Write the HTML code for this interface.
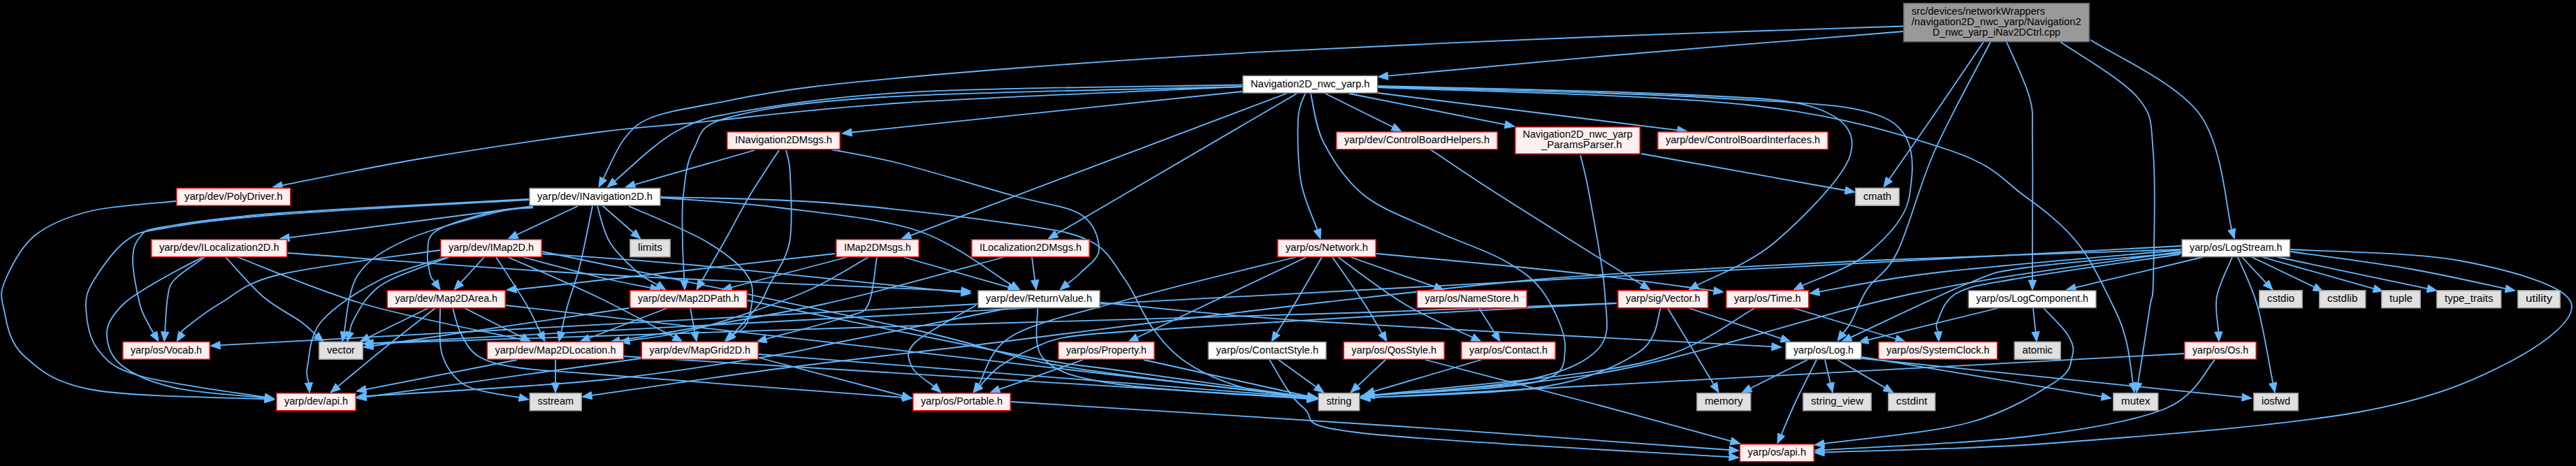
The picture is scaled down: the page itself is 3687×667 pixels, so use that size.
<!DOCTYPE html><html><head><meta charset="utf-8"><style>html,body{margin:0;padding:0;background:#000;}svg{display:block}</style></head><body>
<svg width="3687" height="667" viewBox="0 0 3687 667">
<rect x="0" y="0" width="3687" height="667" fill="#000"/>
<g fill="none" stroke="#63b8ff" stroke-width="1.80">
<path d="M2724.0,45.0 C2653.3,50.8 2422.9,69.4 2300.0,80.0 C2177.1,90.6 2038.7,103.9 1986.4,108.7"/>
<path d="M2724.0,37.5 C2653.3,39.9 2454.0,45.8 2300.0,52.0 C2146.0,58.2 1939.8,67.2 1800.0,74.7 C1660.2,82.2 1566.8,88.8 1461.0,97.0 C1355.2,105.2 1239.0,115.3 1165.0,124.0 C1091.0,132.7 1055.7,141.7 1017.0,149.0 C978.3,156.3 953.5,159.8 933.0,168.0 C912.5,176.2 905.6,183.4 894.0,198.0 C882.4,212.6 868.6,246.0 863.5,255.6"/>
<path d="M2839.0,60.0 C2827.3,77.2 2791.5,130.2 2769.0,163.0 C2746.5,195.8 2714.8,240.9 2704.0,256.5"/>
<path d="M2849.0,60.0 C2835.7,86.0 2791.2,166.0 2769.0,216.0 C2746.8,266.0 2732.0,327.2 2716.0,360.0 C2700.0,392.8 2684.0,396.3 2673.0,413.0 C2662.0,429.7 2655.8,449.4 2650.0,460.0 C2644.2,470.6 2640.1,473.8 2638.1,476.6"/>
<path d="M2872.0,60.0 C2877.5,73.3 2898.8,116.7 2905.0,140.0 C2911.2,163.3 2908.3,163.3 2909.0,200.0 C2909.7,236.7 2909.0,326.5 2909.0,360.0 C2909.0,393.5 2909.0,394.2 2909.0,401.0"/>
<path d="M2949.0,60.0 C2967.5,73.3 3037.8,113.3 3060.0,140.0 C3082.2,166.7 3078.3,176.7 3082.0,220.0 C3085.7,263.3 3082.8,363.3 3082.0,400.0 C3081.2,436.7 3080.6,415.3 3077.0,440.0 C3073.4,464.7 3063.0,530.1 3060.2,548.2"/>
<path d="M2992.0,57.0 C3018.0,74.7 3114.3,117.7 3148.0,163.0 C3181.7,208.3 3186.5,300.9 3194.2,328.5"/>
<path d="M1778.0,124.0 C1696.3,127.9 1417.7,139.0 1288.0,147.5 C1158.3,156.0 1073.0,167.9 1000.0,175.0 C927.0,182.1 916.7,181.2 850.0,190.0 C783.3,198.8 674.4,214.9 600.0,227.5 C525.6,240.1 436.5,259.0 403.7,265.3"/>
<path d="M1778.0,121.5 C1700.5,123.2 1431.5,125.2 1313.0,131.4 C1194.5,137.6 1124.5,149.2 1067.0,158.6 C1009.5,168.0 999.2,171.2 968.0,188.0 C936.8,204.8 894.6,247.3 879.9,259.2"/>
<path d="M1778.0,131.0 L1218.9,189.5"/>
<path d="M1778.0,124.0 C1692.3,126.5 1386.7,131.6 1264.0,139.0 C1141.3,146.4 1087.2,156.1 1042.0,168.4 C996.8,180.7 1003.7,194.4 993.0,213.0 C982.3,231.6 980.7,257.7 978.0,280.0 C975.3,302.3 976.8,326.8 977.0,347.0 C977.2,367.2 979.0,392.0 979.4,401.0"/>
<path d="M1897.0,134.0 L1993.5,181.8"/>
<path d="M1931.0,134.0 L2154.3,178.3"/>
<path d="M1971.7,133.0 L2401.1,186.3"/>
<path d="M1841.0,134.0 L1303.1,337.1"/>
<path d="M1856.0,134.0 L1512.1,334.9"/>
<path d="M1868.0,134.0 C1866.3,140.0 1859.0,149.0 1858.0,170.0 C1857.0,191.0 1857.4,233.5 1862.0,260.0 C1866.6,286.5 1881.6,317.3 1885.5,328.8"/>
<path d="M1876.0,134.0 C1879.2,145.8 1882.2,180.7 1895.0,205.0 C1907.8,229.3 1926.7,259.2 1953.0,280.0 C1979.3,300.8 2019.7,314.5 2053.0,330.0 C2086.3,345.5 2126.8,358.0 2153.0,373.0 C2179.2,388.0 2195.5,398.8 2210.0,420.0 C2224.5,441.2 2242.2,478.8 2240.0,500.0 C2237.8,521.2 2243.5,536.0 2197.0,547.0 C2150.5,558.0 2000.3,562.7 1961.0,565.9"/>
<path d="M1972.0,123.0 C2043.3,125.0 2295.3,129.7 2400.0,135.0 C2504.7,140.3 2558.7,140.3 2600.0,155.0 C2641.3,169.7 2658.0,191.0 2648.0,223.0 C2638.0,255.0 2576.5,316.1 2540.0,347.0 C2503.5,377.9 2447.7,398.0 2429.3,408.2"/>
<path d="M1972.0,124.0 C2051.7,126.7 2328.7,132.3 2450.0,140.0 C2571.3,147.7 2652.8,146.7 2700.0,170.0 C2747.2,193.3 2737.5,247.8 2733.0,280.0 C2728.5,312.2 2698.6,341.5 2673.0,363.0 C2647.4,384.5 2595.1,401.2 2579.6,408.8"/>
<path d="M1972.0,125.0 C2060.0,129.2 2363.7,135.0 2500.0,150.0 C2636.3,165.0 2723.8,193.3 2790.0,215.0 C2856.2,236.7 2866.5,258.0 2897.0,280.0 C2927.5,302.0 2952.0,321.2 2973.0,347.0 C2994.0,372.8 3011.3,411.7 3023.0,435.0 C3034.7,458.3 3038.0,468.1 3043.0,487.0 C3048.0,505.9 3051.2,538.0 3052.8,548.2"/>
<path d="M2349.0,220.0 L2641.2,272.5"/>
<path d="M2262.0,222.0 C2264.2,231.7 2269.2,247.0 2275.0,280.0 C2280.8,313.0 2295.0,383.3 2297.0,420.0 C2299.0,456.7 2306.5,479.2 2287.0,500.0 C2267.5,520.8 2234.3,533.9 2180.0,545.0 C2125.7,556.1 1997.4,563.0 1960.9,566.6"/>
<path d="M2046.0,213.0 C2062.8,224.2 2096.3,247.6 2147.0,280.0 C2197.7,312.4 2316.3,386.3 2350.1,407.6"/>
<path d="M1080.0,215.0 L908.5,264.1"/>
<path d="M1115.0,215.0 C1108.0,225.8 1085.5,259.2 1073.0,280.0 C1060.5,300.8 1051.5,319.5 1040.0,340.0 C1028.5,360.5 1010.0,392.4 1004.0,402.9"/>
<path d="M1125.0,215.0 C1126.0,220.8 1130.2,228.0 1131.0,250.0 C1131.8,272.0 1135.2,320.3 1130.0,347.0 C1124.8,373.7 1107.2,395.3 1100.0,410.0 C1092.8,424.7 1095.5,423.6 1087.0,435.0 C1078.5,446.4 1055.5,471.2 1049.2,478.4"/>
<path d="M1190.0,214.0 C1206.3,217.3 1244.7,223.0 1288.0,234.0 C1331.3,245.0 1406.8,267.8 1450.0,280.0 C1493.2,292.2 1526.5,294.2 1547.0,307.0 C1567.5,319.8 1573.0,343.2 1573.0,357.0 C1573.0,370.8 1554.5,381.8 1547.0,390.0 C1539.5,398.2 1531.0,403.4 1527.8,406.0"/>
<path d="M252.0,288.0 C231.7,290.3 163.7,293.8 130.0,302.0 C96.3,310.2 70.3,320.7 50.0,337.0 C29.7,353.3 15.5,382.8 8.0,400.0 C0.5,417.2 0.8,422.0 5.0,440.0 C9.2,458.0 11.7,488.3 33.0,508.0 C54.3,527.7 75.3,547.5 133.0,558.0 C190.7,568.5 338.0,569.0 379.0,571.2"/>
<path d="M763.0,295.0 L413.9,340.2"/>
<path d="M827.0,295.0 L739.7,336.0"/>
<path d="M863.0,295.0 L906.4,332.8"/>
<path d="M855.0,295.0 C858.0,303.7 863.3,331.2 873.0,347.0 C882.7,362.8 901.6,379.9 913.0,390.0 C924.4,400.1 936.4,404.7 941.1,407.6"/>
<path d="M848.0,295.0 C845.0,309.2 835.8,356.7 830.0,380.0 C824.2,403.3 817.5,419.1 813.0,435.0 C808.5,450.9 804.9,468.7 803.3,475.4"/>
<path d="M900.0,295.0 C918.8,303.7 984.2,329.5 1013.0,347.0 C1041.8,364.5 1063.5,381.2 1073.0,400.0 C1082.5,418.8 1074.2,446.7 1070.0,460.0 C1065.8,473.3 1051.3,476.5 1047.5,479.8"/>
<path d="M763.0,297.0 C753.5,298.0 729.0,297.5 706.0,303.0 C683.0,308.5 640.7,320.2 625.0,330.0 C609.3,339.8 613.5,351.3 612.0,362.0 C610.5,372.7 614.3,387.1 616.0,394.0 C617.7,400.9 621.2,401.8 622.2,403.4"/>
<path d="M763.0,297.0 C753.5,298.3 736.5,297.2 706.0,305.0 C675.5,312.8 612.3,329.2 580.0,344.0 C547.7,358.8 526.7,371.5 512.0,394.0 C497.3,416.5 495.2,465.5 492.0,479.0 C488.8,492.5 492.6,475.9 492.7,475.3"/>
<path d="M757.0,285.0 C697.5,288.3 487.3,298.3 400.0,305.0 C312.7,311.7 266.3,319.2 233.0,325.0 C199.7,330.8 207.2,332.0 200.0,340.0 C192.8,348.0 190.0,357.2 190.0,373.0 C190.0,388.8 196.2,419.7 200.0,435.0 C203.8,450.3 209.7,458.0 213.0,465.0 C216.3,472.0 218.8,474.9 219.9,476.9"/>
<path d="M757.0,286.0 C697.5,289.5 487.3,300.2 400.0,307.0 C312.7,313.8 269.7,320.7 233.0,327.0 C196.3,333.3 196.3,332.8 180.0,345.0 C163.7,357.2 144.5,384.2 135.0,400.0 C125.5,415.8 122.2,423.3 123.0,440.0 C123.8,456.7 127.2,483.7 140.0,500.0 C152.8,516.3 160.1,526.6 200.0,538.0 C239.9,549.4 349.3,563.5 379.2,568.6"/>
<path d="M946.0,283.0 C973.8,285.3 1051.8,289.2 1113.0,297.0 C1174.2,304.8 1257.2,311.5 1313.0,330.0 C1368.8,348.5 1425.4,395.0 1447.9,408.0"/>
<path d="M946.0,282.0 C985.0,283.3 1096.5,283.7 1180.0,290.0 C1263.5,296.3 1383.7,310.8 1447.0,320.0 C1510.3,329.2 1532.8,331.7 1560.0,345.0 C1587.2,358.3 1595.0,379.2 1610.0,400.0 C1625.0,420.8 1635.0,450.0 1650.0,470.0 C1665.0,490.0 1678.3,505.8 1700.0,520.0 C1721.7,534.2 1751.5,546.9 1780.0,555.0 C1808.5,563.1 1856.0,566.6 1871.2,568.9"/>
<path d="M290.0,368.0 C280.0,373.3 248.8,388.8 230.0,400.0 C211.2,411.2 189.8,422.5 177.0,435.0 C164.2,447.5 153.7,460.5 153.0,475.0 C152.3,489.5 156.8,508.7 173.0,522.0 C189.2,535.3 215.7,547.1 250.0,555.0 C284.3,562.9 357.6,567.0 379.1,569.4"/>
<path d="M293.0,368.0 C285.8,373.3 258.8,390.5 250.0,400.0 C241.2,409.5 242.3,412.5 240.0,425.0 C237.7,437.5 236.7,466.7 236.1,475.0"/>
<path d="M323.0,368.0 C332.0,377.5 359.2,409.7 377.0,425.0 C394.8,440.3 417.4,450.9 430.0,460.0 C442.6,469.1 448.7,476.5 452.5,479.8"/>
<path d="M340.0,368.0 C370.0,379.2 452.3,415.3 520.0,435.0 C587.7,454.7 708.6,477.4 746.3,485.9"/>
<path d="M411.0,362.0 C485.7,367.2 698.2,383.9 859.0,393.0 C1019.8,402.1 1289.8,412.5 1376.0,416.4"/>
<path d="M693.0,368.0 L659.5,404.7"/>
<path d="M748.0,368.0 C766.5,372.8 828.5,389.6 859.0,397.0 C889.5,404.4 919.2,409.6 931.3,412.1"/>
<path d="M710.0,368.0 C717.2,379.2 742.4,416.9 753.0,435.0 C763.6,453.1 770.3,469.6 773.7,476.5"/>
<path d="M727.0,368.0 C749.0,377.8 819.4,407.9 859.0,427.0 C898.6,446.1 947.0,473.2 964.6,482.5"/>
<path d="M643.0,368.0 C629.2,373.3 579.3,390.5 560.0,400.0 C540.7,409.5 536.2,415.0 527.0,425.0 C517.8,435.0 509.4,451.6 505.0,460.0 C500.6,468.4 501.4,472.9 500.7,475.5"/>
<path d="M630.0,358.0 C591.7,363.8 452.2,380.5 400.0,393.0 C347.8,405.5 339.5,420.2 317.0,433.0 C294.5,445.8 274.4,462.6 265.0,470.0 C255.6,477.4 261.2,476.0 260.5,477.2"/>
<path d="M773.0,363.0 C810.8,365.8 899.5,370.7 1000.0,380.0 C1100.5,389.3 1313.4,412.1 1376.1,418.6"/>
<path d="M613.0,441.0 L527.6,482.8"/>
<path d="M623.0,441.0 C610.5,450.8 571.2,481.3 548.0,500.0 C524.8,518.7 494.5,544.2 483.8,553.1"/>
<path d="M665.0,441.0 L747.5,482.7"/>
<path d="M630.0,441.0 C630.5,452.2 626.8,489.5 633.0,508.0 C639.2,526.5 648.6,541.8 667.0,552.0 C685.4,562.2 730.6,566.1 743.3,569.0"/>
<path d="M648.0,441.0 C650.0,447.2 653.8,466.5 660.0,478.0 C666.2,489.5 671.7,502.0 685.0,510.0 C698.3,518.0 711.2,521.7 740.0,526.0 C768.8,530.3 766.0,528.8 858.0,536.0 C950.0,543.2 1219.7,563.5 1292.0,568.9"/>
<path d="M955.0,441.0 L843.1,484.0"/>
<path d="M988.0,441.0 L994.4,475.2"/>
<path d="M900.0,441.0 L533.9,495.0"/>
<path d="M795.0,515.0 L795.0,548.0"/>
<path d="M740.0,515.0 L523.7,557.3"/>
<path d="M1213.0,368.0 L1046.5,411.5"/>
<path d="M1195.0,363.0 C1125.8,370.8 856.0,401.5 780.0,410.0 C704.0,418.5 745.8,413.1 738.9,413.7"/>
<path d="M1293.0,368.0 L1443.5,411.1"/>
<path d="M1243.0,368.0 C1227.0,376.7 1187.5,403.0 1147.0,420.0 C1106.5,437.0 1041.0,458.7 1000.0,470.0 C959.0,481.3 917.3,484.6 900.8,487.6"/>
<path d="M1255.0,368.0 C1253.0,379.2 1250.0,420.8 1243.0,435.0 C1236.0,449.2 1237.4,444.6 1213.0,453.0 C1188.6,461.4 1115.9,479.9 1096.5,485.3"/>
<path d="M1477.0,368.0 L1481.2,401.1"/>
<path d="M1437.0,368.0 C1394.2,379.2 1271.7,415.1 1180.0,435.0 C1088.3,454.9 935.7,478.8 886.8,487.5"/>
<path d="M1870.0,368.0 L1627.6,483.0"/>
<path d="M1892.0,368.0 C1885.5,379.2 1863.8,416.8 1853.0,435.0 C1842.2,453.2 1831.6,470.0 1827.3,477.1"/>
<path d="M1907.0,368.0 C1914.7,379.2 1941.2,416.8 1953.0,435.0 C1964.8,453.2 1973.7,470.0 1977.9,477.0"/>
<path d="M1915.0,368.0 C1930.8,379.2 1977.9,415.9 2010.0,435.0 C2042.1,454.1 2091.2,474.9 2107.4,482.8"/>
<path d="M1933.0,368.0 L2053.8,410.4"/>
<path d="M1970.0,363.0 C2016.7,367.5 2169.5,381.1 2250.0,390.0 C2330.5,398.9 2419.3,411.8 2453.1,416.2"/>
<path d="M1855.0,368.0 C1815.8,377.8 1687.5,408.3 1620.0,427.0 C1552.5,445.7 1486.5,459.4 1450.0,480.0 C1413.5,500.6 1409.2,538.8 1401.0,550.5"/>
<path d="M1397.0,437.0 C1382.5,445.8 1325.3,475.3 1310.0,490.0 C1294.7,504.7 1300.6,514.5 1305.0,525.0 C1309.4,535.5 1331.2,548.1 1336.5,552.7"/>
<path d="M1485.0,441.0 C1486.7,453.3 1475.8,496.8 1495.0,515.0 C1514.2,533.2 1537.3,540.7 1600.0,550.0 C1662.7,559.3 1825.9,567.4 1871.0,570.9"/>
<path d="M1575.0,433.0 C1625.8,437.5 1719.8,449.5 1880.0,460.0 C2040.2,470.5 2426.7,490.2 2536.0,496.2"/>
<path d="M1444.0,441.0 C1433.3,443.2 1420.7,445.8 1380.0,454.0 C1339.3,462.2 1246.7,480.7 1200.0,490.0 C1153.3,499.3 1156.7,501.0 1100.0,510.0 C1043.3,519.0 956.0,534.5 860.0,544.0 C764.0,553.5 580.0,563.2 524.0,567.0"/>
<path d="M2117.0,441.0 L2139.6,477.1"/>
<path d="M2377.0,441.0 C2372.0,451.3 2374.3,484.3 2347.0,503.0 C2319.7,521.7 2277.3,542.0 2213.0,553.0 C2148.7,564.0 2003.0,566.4 1961.0,569.1"/>
<path d="M2387.0,441.0 L2452.8,550.0"/>
<path d="M2417.0,441.0 L2549.7,484.6"/>
<path d="M2314.0,434.0 C2255.0,437.2 2070.7,446.7 1960.0,453.0 C1849.3,459.3 1721.7,467.2 1650.0,472.0 C1578.3,476.8 1559.2,477.3 1530.0,482.0 C1500.8,486.7 1491.7,492.8 1475.0,500.0 C1458.3,507.2 1442.0,516.3 1430.0,525.0 C1418.0,533.7 1407.4,547.6 1402.9,552.1"/>
<path d="M2512.0,441.0 C2484.5,454.2 2437.8,499.3 2347.0,520.0 C2256.2,540.7 2030.3,557.8 1966.9,565.3"/>
<path d="M2567.0,441.0 L2713.6,485.0"/>
<path d="M1637.0,515.0 L1871.3,567.0"/>
<path d="M1550.0,515.0 L1430.2,557.3"/>
<path d="M1830.0,515.0 L1883.7,553.8"/>
<path d="M1817.0,515.0 C1825.0,526.3 1842.8,565.5 1865.0,583.0 C1887.2,600.5 1848.3,608.2 1950.0,620.0 C2051.7,631.8 2387.5,648.4 2475.0,654.1"/>
<path d="M1983.0,515.0 L1943.2,552.4"/>
<path d="M2040.0,515.0 C2078.3,525.0 2197.1,555.6 2270.0,575.0 C2342.9,594.4 2442.9,621.9 2477.5,631.3"/>
<path d="M2120.0,515.0 L1966.4,560.1"/>
<path d="M1447.0,575.0 C1539.2,580.8 1828.7,598.5 2000.0,610.0 C2171.3,621.5 2395.9,638.3 2475.0,644.0"/>
<path d="M2587.0,515.0 L2505.5,555.7"/>
<path d="M2612.0,515.0 L2619.8,548.4"/>
<path d="M2630.0,515.0 L2697.9,554.9"/>
<path d="M2600.0,515.0 C2595.0,525.0 2578.4,557.1 2570.0,575.0 C2561.6,592.9 2553.0,614.3 2549.6,622.2"/>
<path d="M2665.0,511.0 L3008.2,567.7"/>
<path d="M2665.0,513.0 L3209.1,568.6"/>
<path d="M2860.0,441.0 L2673.6,486.7"/>
<path d="M2910.0,441.0 L2913.5,475.1"/>
<path d="M2925.0,441.0 C2930.8,447.5 2953.2,468.5 2960.0,480.0 C2966.8,491.5 2969.2,498.8 2966.0,510.0 C2962.8,521.2 2965.7,531.2 2941.0,547.0 C2916.3,562.8 2873.0,590.3 2818.0,605.0 C2763.0,619.7 2645.4,630.0 2610.9,635.0"/>
<path d="M3120.0,358.0 C3062.2,363.3 2859.0,380.0 2773.0,390.0 C2687.0,400.0 2632.0,413.1 2603.8,417.7"/>
<path d="M3153.0,368.0 L2970.6,411.7"/>
<path d="M3122.0,362.0 C3085.0,365.5 2951.0,375.7 2900.0,383.0 C2849.0,390.3 2857.9,389.3 2816.0,406.0 C2774.1,422.7 2676.6,470.3 2648.7,483.1"/>
<path d="M3120.0,364.0 C3080.0,370.0 2933.3,390.7 2880.0,400.0 C2826.7,409.3 2817.8,410.0 2800.0,420.0 C2782.2,430.0 2777.3,450.8 2773.0,460.0 C2768.7,469.2 2773.9,472.5 2774.0,475.0"/>
<path d="M3209.0,368.0 L3243.4,404.8"/>
<path d="M3223.0,368.0 L3312.4,410.9"/>
<path d="M3238.0,368.0 L3397.5,413.2"/>
<path d="M3260.0,368.0 L3474.3,413.1"/>
<path d="M3278.0,360.0 C3306.7,364.2 3398.6,376.1 3450.0,385.0 C3501.4,393.9 3563.6,408.5 3586.3,413.2"/>
<path d="M3195.0,368.0 C3191.3,377.3 3176.3,406.2 3173.0,424.0 C3169.7,441.8 3175.0,466.5 3175.4,475.0"/>
<path d="M3203.0,368.0 C3207.7,379.7 3222.6,408.0 3231.0,438.0 C3239.4,468.0 3249.5,529.9 3253.2,548.3"/>
<path d="M3278.0,357.0 C3318.3,359.7 3453.2,360.7 3520.0,373.0 C3586.8,385.3 3667.0,406.8 3679.0,431.0 C3691.0,455.2 3642.7,491.5 3592.0,518.0 C3541.3,544.5 3483.5,570.7 3375.0,590.0 C3266.5,609.3 3068.3,624.4 2941.0,634.0 C2813.7,643.6 2666.0,645.2 2611.0,647.4"/>
<path d="M3122.0,352.0 L534.0,491.2"/>
<path d="M3122.0,360.0 C3058.2,370.0 2873.8,391.7 2739.0,420.0 C2604.2,448.3 2442.7,505.6 2313.0,530.0 C2183.3,554.4 2019.6,560.5 1960.9,566.6"/>
<path d="M3122.0,357.0 C3051.7,359.5 2813.7,367.3 2700.0,372.0 C2586.3,376.7 2523.3,380.3 2440.0,385.0 C2356.7,389.7 2290.0,392.2 2200.0,400.0 C2110.0,407.8 1992.0,421.7 1900.0,432.0 C1808.0,442.3 1728.0,452.2 1648.0,462.0 C1568.0,471.8 1508.0,480.2 1420.0,491.0 C1332.0,501.8 1215.5,514.5 1120.0,527.0 C1024.5,539.5 892.4,559.5 846.9,566.0"/>
<path d="M3127.0,506.0 L1961.0,569.2"/>
<path d="M3170.0,515.0 C3158.2,526.7 3144.0,566.7 3099.0,585.0 C3054.0,603.3 2981.3,615.2 2900.0,625.0 C2818.7,634.8 2659.1,640.9 2611.0,644.1"/>
<path d="M1401.0,435.0 L315.0,494.2"/>
<path d="M2314.0,434.0 C2255.0,436.2 2115.7,442.0 1960.0,447.0 C1804.3,452.0 1617.7,456.6 1380.0,464.0 C1142.3,471.4 675.0,487.0 534.0,491.5"/>
<path d="M776.0,360.0 C863.3,378.3 1176.0,442.7 1300.0,470.0 C1424.0,497.3 1424.5,507.6 1520.0,524.0 C1615.5,540.4 1814.3,560.9 1873.1,568.3"/>
<path d="M1086.0,507.0 L1873.0,568.9"/>
<path d="M724.0,437.0 L1873.1,568.4"/>
<path d="M1070.0,430.0 C1135.0,443.2 1371.7,492.3 1460.0,509.0 C1548.3,525.7 1531.1,520.2 1600.0,530.0 C1668.9,539.8 1827.6,561.7 1873.1,568.1"/>
<path d="M893.0,510.0 L1873.0,570.1"/>
<path d="M1086.0,512.0 L1291.5,566.4"/>
<path d="M640.0,368.0 C624.2,373.3 575.0,384.7 545.0,400.0 C515.0,415.3 477.5,439.2 460.0,460.0 C442.5,480.8 443.0,510.3 440.0,525.0 C437.0,539.7 441.6,544.2 441.9,548.0"/>
<path d="M917.0,513.0 L523.9,568.1"/>
</g>
<g fill="#63b8ff" stroke="#63b8ff" stroke-width="1">
<polygon points="1972.5,110.0 1985.9,103.1 1987.0,114.3"/>
<polygon points="857.0,268.0 858.6,253.0 868.5,258.2"/>
<polygon points="2696.0,268.0 2699.4,253.3 2708.6,259.7"/>
<polygon points="2630.0,488.0 2633.6,473.4 2642.7,479.9"/>
<polygon points="2909.0,415.0 2903.4,401.0 2914.6,401.0"/>
<polygon points="3058.0,562.0 3054.6,547.3 3065.7,549.0"/>
<polygon points="3198.0,342.0 3188.8,330.0 3199.6,327.0"/>
<polygon points="390.0,268.0 402.7,259.9 404.8,270.8"/>
<polygon points="869.0,268.0 876.4,254.8 883.4,263.6"/>
<polygon points="1205.0,191.0 1218.3,184.0 1219.5,195.1"/>
<polygon points="980.0,415.0 973.8,401.3 985.0,400.8"/>
<polygon points="2006.0,188.0 1991.0,186.8 1995.9,176.8"/>
<polygon points="2168.0,181.0 2153.2,183.8 2155.4,172.8"/>
<polygon points="2415.0,188.0 2400.4,191.8 2401.8,180.7"/>
<polygon points="1290.0,342.0 1301.1,331.8 1305.1,342.3"/>
<polygon points="1500.0,342.0 1509.3,330.1 1514.9,339.8"/>
<polygon points="1890.0,342.0 1880.2,330.6 1890.8,326.9"/>
<polygon points="1947.0,567.0 1960.5,560.3 1961.4,571.5"/>
<polygon points="2417.0,415.0 2426.5,403.3 2432.0,413.1"/>
<polygon points="2567.0,415.0 2577.1,403.8 2582.0,413.9"/>
<polygon points="3055.0,562.0 3047.3,549.1 3058.3,547.3"/>
<polygon points="2655.0,275.0 2640.2,278.0 2642.2,267.0"/>
<polygon points="1947.0,568.0 1960.4,561.1 1961.5,572.2"/>
<polygon points="2362.0,415.0 2347.2,412.3 2353.1,402.8"/>
<polygon points="895.0,268.0 906.9,258.8 910.0,269.5"/>
<polygon points="997.0,415.0 999.1,400.1 1008.8,405.6"/>
<polygon points="1040.0,489.0 1045.0,474.8 1053.4,482.1"/>
<polygon points="1517.0,415.0 1524.2,401.7 1531.3,410.3"/>
<polygon points="393.0,572.0 378.7,576.8 379.3,565.7"/>
<polygon points="400.0,342.0 413.2,334.6 414.6,345.8"/>
<polygon points="727.0,342.0 737.3,331.0 742.1,341.1"/>
<polygon points="917.0,342.0 902.8,337.0 910.1,328.6"/>
<polygon points="953.0,415.0 938.2,412.3 944.1,402.8"/>
<polygon points="800.0,489.0 797.8,474.1 808.7,476.7"/>
<polygon points="1037.0,489.0 1043.8,475.6 1051.2,484.0"/>
<polygon points="630.0,415.0 617.6,406.5 626.9,400.2"/>
<polygon points="490.0,489.0 487.3,474.2 498.2,476.4"/>
<polygon points="227.0,489.0 215.1,479.7 224.8,474.1"/>
<polygon points="393.0,571.0 378.3,574.2 380.1,563.1"/>
<polygon points="1460.0,415.0 1445.1,412.8 1450.7,403.1"/>
<polygon points="1885.0,571.0 1870.3,574.4 1872.0,563.4"/>
<polygon points="393.0,571.0 378.5,575.0 379.7,563.9"/>
<polygon points="235.0,489.0 230.5,474.6 241.7,475.5"/>
<polygon points="463.0,489.0 448.8,484.0 456.2,475.6"/>
<polygon points="760.0,489.0 745.1,491.4 747.6,480.5"/>
<polygon points="1390.0,417.0 1375.8,422.0 1376.3,410.8"/>
<polygon points="650.0,415.0 655.3,400.9 663.6,408.5"/>
<polygon points="945.0,415.0 930.1,417.6 932.4,406.7"/>
<polygon points="780.0,489.0 768.7,479.0 778.7,474.0"/>
<polygon points="977.0,489.0 962.0,487.4 967.2,477.5"/>
<polygon points="497.0,489.0 495.3,474.0 506.1,477.0"/>
<polygon points="253.0,489.0 255.7,474.2 265.2,480.2"/>
<polygon points="1390.0,420.0 1375.5,424.1 1376.6,413.0"/>
<polygon points="515.0,489.0 525.1,477.8 530.0,487.9"/>
<polygon points="473.0,562.0 480.2,548.8 487.4,557.4"/>
<polygon points="760.0,489.0 745.0,487.7 750.0,477.7"/>
<polygon points="757.0,572.0 742.1,574.4 744.5,563.5"/>
<polygon points="1306.0,570.0 1291.6,574.5 1292.5,563.4"/>
<polygon points="830.0,489.0 841.1,478.8 845.1,489.2"/>
<polygon points="997.0,489.0 988.9,476.3 999.9,474.2"/>
<polygon points="520.0,497.0 533.0,489.4 534.7,500.5"/>
<polygon points="795.0,562.0 789.4,548.0 800.6,548.0"/>
<polygon points="510.0,560.0 522.7,551.8 524.8,562.8"/>
<polygon points="1033.0,415.0 1045.1,406.0 1048.0,416.9"/>
<polygon points="725.0,415.0 738.4,408.2 739.4,419.3"/>
<polygon points="1457.0,415.0 1442.0,416.5 1445.1,405.8"/>
<polygon points="887.0,490.0 899.8,482.0 901.8,493.1"/>
<polygon points="1083.0,489.0 1095.0,479.9 1098.0,490.7"/>
<polygon points="1483.0,415.0 1475.7,401.8 1486.8,400.4"/>
<polygon points="873.0,490.0 885.8,482.0 887.8,493.0"/>
<polygon points="1615.0,489.0 1625.2,477.9 1630.0,488.1"/>
<polygon points="1820.0,489.0 1822.5,474.1 1832.1,480.0"/>
<polygon points="1985.0,489.0 1973.0,479.8 1982.7,474.1"/>
<polygon points="2120.0,489.0 2105.0,487.9 2109.9,477.8"/>
<polygon points="2067.0,415.0 2051.9,415.7 2055.6,405.1"/>
<polygon points="2467.0,418.0 2452.4,421.8 2453.8,410.7"/>
<polygon points="1393.0,562.0 1396.4,547.3 1405.6,553.7"/>
<polygon points="1347.0,562.0 1332.8,556.9 1340.2,548.5"/>
<polygon points="1885.0,572.0 1870.6,576.5 1871.5,565.3"/>
<polygon points="2550.0,497.0 2535.7,501.8 2536.3,490.6"/>
<polygon points="510.0,568.0 523.6,561.5 524.4,572.6"/>
<polygon points="2147.0,489.0 2134.8,480.1 2144.3,474.2"/>
<polygon points="1947.0,570.0 1960.6,563.5 1961.3,574.7"/>
<polygon points="2460.0,562.0 2448.0,552.9 2457.6,547.1"/>
<polygon points="2563.0,489.0 2548.0,489.9 2551.4,479.3"/>
<polygon points="1393.0,562.0 1398.9,548.1 1406.9,556.1"/>
<polygon points="1953.0,567.0 1966.2,559.8 1967.6,570.9"/>
<polygon points="2727.0,489.0 2712.0,490.3 2715.2,479.6"/>
<polygon points="1885.0,570.0 1870.1,572.4 1872.5,561.5"/>
<polygon points="1417.0,562.0 1428.3,552.1 1432.1,562.6"/>
<polygon points="1895.0,562.0 1880.4,558.3 1886.9,549.3"/>
<polygon points="2489.0,655.0 2474.7,659.7 2475.4,648.5"/>
<polygon points="1933.0,562.0 1939.4,548.3 1947.0,556.5"/>
<polygon points="2491.0,635.0 2476.0,636.7 2479.0,625.9"/>
<polygon points="1953.0,564.0 1964.9,554.7 1968.0,565.4"/>
<polygon points="2489.0,645.0 2474.6,649.6 2475.4,638.4"/>
<polygon points="2493.0,562.0 2503.0,550.7 2508.0,560.7"/>
<polygon points="2623.0,562.0 2614.4,549.6 2625.3,547.1"/>
<polygon points="2710.0,562.0 2695.1,559.7 2700.8,550.1"/>
<polygon points="2544.0,635.0 2544.4,619.9 2554.7,624.4"/>
<polygon points="3022.0,570.0 3007.3,573.2 3009.1,562.2"/>
<polygon points="3223.0,570.0 3208.5,574.1 3209.6,563.0"/>
<polygon points="2660.0,490.0 2672.3,481.2 2674.9,492.1"/>
<polygon points="2915.0,489.0 2908.0,475.7 2919.1,474.5"/>
<polygon points="2597.0,637.0 2610.1,629.5 2611.7,640.5"/>
<polygon points="2590.0,420.0 2602.9,412.2 2604.7,423.3"/>
<polygon points="2957.0,415.0 2969.3,406.3 2971.9,417.2"/>
<polygon points="2636.0,489.0 2646.4,478.1 2651.1,488.2"/>
<polygon points="2775.0,489.0 2768.5,475.4 2779.6,474.6"/>
<polygon points="3253.0,415.0 3239.3,408.6 3247.5,401.0"/>
<polygon points="3325.0,417.0 3310.0,416.0 3314.8,405.9"/>
<polygon points="3411.0,417.0 3396.0,418.6 3399.1,407.8"/>
<polygon points="3488.0,416.0 3473.1,418.6 3475.5,407.6"/>
<polygon points="3600.0,416.0 3585.2,418.7 3587.4,407.7"/>
<polygon points="3176.0,489.0 3169.8,475.3 3180.9,474.8"/>
<polygon points="3256.0,562.0 3247.7,549.4 3258.7,547.2"/>
<polygon points="2597.0,648.0 2610.8,641.8 2611.2,653.0"/>
<polygon points="520.0,492.0 533.7,485.7 534.3,496.8"/>
<polygon points="1947.0,568.0 1960.3,561.0 1961.5,572.1"/>
<polygon points="833.0,568.0 846.1,560.5 847.7,571.6"/>
<polygon points="1947.0,570.0 1960.7,563.7 1961.3,574.8"/>
<polygon points="2597.0,645.0 2610.6,638.5 2611.3,649.7"/>
<polygon points="301.0,495.0 314.7,488.6 315.3,499.8"/>
<polygon points="520.0,492.0 533.8,485.9 534.2,497.1"/>
<polygon points="1887.0,570.0 1872.4,573.8 1873.8,562.7"/>
<polygon points="1887.0,570.0 1872.6,574.5 1873.5,563.3"/>
<polygon points="1887.0,570.0 1872.5,574.0 1873.7,562.8"/>
<polygon points="1887.0,570.0 1872.4,573.6 1873.9,562.5"/>
<polygon points="1887.0,571.0 1872.7,575.7 1873.4,564.6"/>
<polygon points="1305.0,570.0 1290.0,571.8 1292.9,561.0"/>
<polygon points="443.0,562.0 436.3,548.5 447.5,547.6"/>
<polygon points="510.0,570.0 523.1,562.5 524.6,573.6"/>
</g>
<g style="font-family:&quot;Liberation Sans&quot;,sans-serif;font-size:14px" fill="#000">
<rect x="2724.75" y="4.75" width="265.50" height="55.00" fill="#999999" stroke="#666666" stroke-width="1.5"/>
<text x="2736.0" y="21.1" textLength="191.0" lengthAdjust="spacingAndGlyphs">src/devices/networkWrappers</text>
<text x="2736.0" y="36.1" textLength="242.6" lengthAdjust="spacingAndGlyphs">/navigation2D_nwc_yarp/Navigation2</text>
<text x="2766.0" y="51.1" textLength="183.0" lengthAdjust="spacingAndGlyphs">D_nwc_yarp_iNav2DCtrl.cpp</text>
<rect x="1778.75" y="108.25" width="193.00" height="25.00" fill="#ffffff" stroke="#666666" stroke-width="1.5"/>
<text x="1790.0" y="124.7" textLength="170.5" lengthAdjust="spacingAndGlyphs">Navigation2D_nwc_yarp.h</text>
<rect x="1040.75" y="188.75" width="161.50" height="25.00" fill="#fff0f0" stroke="#ff0000" stroke-width="1.5"/>
<text x="1052.0" y="205.2" textLength="139.0" lengthAdjust="spacingAndGlyphs">INavigation2DMsgs.h</text>
<rect x="1912.75" y="188.75" width="230.50" height="25.00" fill="#fff0f0" stroke="#ff0000" stroke-width="1.5"/>
<text x="1924.0" y="205.2" textLength="208.0" lengthAdjust="spacingAndGlyphs">yarp/dev/ControlBoardHelpers.h</text>
<rect x="2168.75" y="181.75" width="178.50" height="38.50" fill="#fff0f0" stroke="#ff0000" stroke-width="1.5"/>
<text x="2179.5" y="197.4" textLength="157.0" lengthAdjust="spacingAndGlyphs">Navigation2D_nwc_yarp</text>
<text x="2206.0" y="212.4" textLength="115.5" lengthAdjust="spacingAndGlyphs">_ParamsParser.h</text>
<rect x="2372.75" y="188.75" width="243.50" height="25.00" fill="#fff0f0" stroke="#ff0000" stroke-width="1.5"/>
<text x="2384.0" y="205.2" textLength="221.0" lengthAdjust="spacingAndGlyphs">yarp/dev/ControlBoardInterfaces.h</text>
<rect x="252.75" y="269.25" width="163.00" height="25.00" fill="#fff0f0" stroke="#ff0000" stroke-width="1.5"/>
<text x="264.0" y="285.6" textLength="140.5" lengthAdjust="spacingAndGlyphs">yarp/dev/PolyDriver.h</text>
<rect x="757.75" y="269.25" width="187.50" height="25.00" fill="#ffffff" stroke="#666666" stroke-width="1.5"/>
<text x="769.0" y="285.6" textLength="165.0" lengthAdjust="spacingAndGlyphs">yarp/dev/INavigation2D.h</text>
<rect x="2655.75" y="269.25" width="62.50" height="25.00" fill="#e0e0e0" stroke="#999999" stroke-width="1.5"/>
<text x="2667.0" y="285.6" textLength="40.0" lengthAdjust="spacingAndGlyphs">cmath</text>
<rect x="216.75" y="342.75" width="194.00" height="25.00" fill="#fff0f0" stroke="#ff0000" stroke-width="1.5"/>
<text x="228.0" y="359.1" textLength="171.5" lengthAdjust="spacingAndGlyphs">yarp/dev/ILocalization2D.h</text>
<rect x="630.75" y="342.75" width="144.50" height="25.00" fill="#fff0f0" stroke="#ff0000" stroke-width="1.5"/>
<text x="642.0" y="359.1" textLength="122.0" lengthAdjust="spacingAndGlyphs">yarp/dev/IMap2D.h</text>
<rect x="901.75" y="342.75" width="57.50" height="25.00" fill="#e0e0e0" stroke="#999999" stroke-width="1.5"/>
<text x="913.0" y="359.1" textLength="35.0" lengthAdjust="spacingAndGlyphs">limits</text>
<rect x="1196.75" y="342.75" width="118.50" height="25.00" fill="#fff0f0" stroke="#ff0000" stroke-width="1.5"/>
<text x="1208.0" y="359.1" textLength="96.0" lengthAdjust="spacingAndGlyphs">IMap2DMsgs.h</text>
<rect x="1390.75" y="342.75" width="168.50" height="25.00" fill="#fff0f0" stroke="#ff0000" stroke-width="1.5"/>
<text x="1402.0" y="359.1" textLength="146.0" lengthAdjust="spacingAndGlyphs">ILocalization2DMsgs.h</text>
<rect x="1828.75" y="342.75" width="140.50" height="25.00" fill="#fff0f0" stroke="#ff0000" stroke-width="1.5"/>
<text x="1840.0" y="359.1" textLength="118.0" lengthAdjust="spacingAndGlyphs">yarp/os/Network.h</text>
<rect x="3122.75" y="342.75" width="155.00" height="25.00" fill="#ffffff" stroke="#666666" stroke-width="1.5"/>
<text x="3134.0" y="359.1" textLength="132.5" lengthAdjust="spacingAndGlyphs">yarp/os/LogStream.h</text>
<rect x="554.25" y="415.75" width="169.00" height="25.00" fill="#fff0f0" stroke="#ff0000" stroke-width="1.5"/>
<text x="565.5" y="432.1" textLength="146.5" lengthAdjust="spacingAndGlyphs">yarp/dev/Map2DArea.h</text>
<rect x="901.75" y="415.75" width="167.50" height="25.00" fill="#fff0f0" stroke="#ff0000" stroke-width="1.5"/>
<text x="913.0" y="432.1" textLength="145.0" lengthAdjust="spacingAndGlyphs">yarp/dev/Map2DPath.h</text>
<rect x="1399.75" y="415.75" width="174.50" height="25.00" fill="#ffffff" stroke="#666666" stroke-width="1.5"/>
<text x="1411.0" y="432.1" textLength="152.0" lengthAdjust="spacingAndGlyphs">yarp/dev/ReturnValue.h</text>
<rect x="2028.25" y="415.75" width="157.00" height="25.00" fill="#fff0f0" stroke="#ff0000" stroke-width="1.5"/>
<text x="2039.5" y="432.1" textLength="134.5" lengthAdjust="spacingAndGlyphs">yarp/os/NameStore.h</text>
<rect x="2315.75" y="415.75" width="129.00" height="25.00" fill="#fff0f0" stroke="#ff0000" stroke-width="1.5"/>
<text x="2327.0" y="432.1" textLength="106.5" lengthAdjust="spacingAndGlyphs">yarp/sig/Vector.h</text>
<rect x="2470.75" y="415.75" width="118.00" height="25.00" fill="#fff0f0" stroke="#ff0000" stroke-width="1.5"/>
<text x="2482.0" y="432.1" textLength="95.5" lengthAdjust="spacingAndGlyphs">yarp/os/Time.h</text>
<rect x="2817.25" y="415.75" width="183.00" height="25.00" fill="#ffffff" stroke="#666666" stroke-width="1.5"/>
<text x="2828.5" y="432.1" textLength="160.5" lengthAdjust="spacingAndGlyphs">yarp/os/LogComponent.h</text>
<rect x="3233.75" y="415.75" width="61.50" height="25.00" fill="#e0e0e0" stroke="#999999" stroke-width="1.5"/>
<text x="3245.0" y="432.1" textLength="39.0" lengthAdjust="spacingAndGlyphs">cstdio</text>
<rect x="3319.75" y="415.75" width="66.00" height="25.00" fill="#e0e0e0" stroke="#999999" stroke-width="1.5"/>
<text x="3331.0" y="432.1" textLength="43.5" lengthAdjust="spacingAndGlyphs">cstdlib</text>
<rect x="3408.75" y="415.75" width="55.50" height="25.00" fill="#e0e0e0" stroke="#999999" stroke-width="1.5"/>
<text x="3420.0" y="432.1" textLength="33.0" lengthAdjust="spacingAndGlyphs">tuple</text>
<rect x="3487.75" y="415.75" width="92.00" height="25.00" fill="#e0e0e0" stroke="#999999" stroke-width="1.5"/>
<text x="3499.0" y="432.1" textLength="69.5" lengthAdjust="spacingAndGlyphs">type_traits</text>
<rect x="3603.75" y="415.75" width="60.50" height="25.00" fill="#e0e0e0" stroke="#999999" stroke-width="1.5"/>
<text x="3615.0" y="432.1" textLength="38.0" lengthAdjust="spacingAndGlyphs">utility</text>
<rect x="175.75" y="489.25" width="124.50" height="25.00" fill="#fff0f0" stroke="#ff0000" stroke-width="1.5"/>
<text x="187.0" y="505.6" textLength="102.0" lengthAdjust="spacingAndGlyphs">yarp/os/Vocab.h</text>
<rect x="456.75" y="489.25" width="62.50" height="25.00" fill="#e0e0e0" stroke="#999999" stroke-width="1.5"/>
<text x="468.0" y="505.6" textLength="40.0" lengthAdjust="spacingAndGlyphs">vector</text>
<rect x="697.25" y="489.25" width="195.50" height="25.00" fill="#fff0f0" stroke="#ff0000" stroke-width="1.5"/>
<text x="708.5" y="505.6" textLength="173.0" lengthAdjust="spacingAndGlyphs">yarp/dev/Map2DLocation.h</text>
<rect x="918.25" y="489.25" width="167.00" height="25.00" fill="#fff0f0" stroke="#ff0000" stroke-width="1.5"/>
<text x="929.5" y="505.6" textLength="144.5" lengthAdjust="spacingAndGlyphs">yarp/dev/MapGrid2D.h</text>
<rect x="1514.75" y="489.25" width="137.50" height="25.00" fill="#fff0f0" stroke="#ff0000" stroke-width="1.5"/>
<text x="1526.0" y="505.6" textLength="115.0" lengthAdjust="spacingAndGlyphs">yarp/os/Property.h</text>
<rect x="1729.25" y="489.25" width="169.00" height="25.00" fill="#ffffff" stroke="#666666" stroke-width="1.5"/>
<text x="1740.5" y="505.6" textLength="146.5" lengthAdjust="spacingAndGlyphs">yarp/os/ContactStyle.h</text>
<rect x="1923.25" y="489.25" width="144.00" height="25.00" fill="#fff0f0" stroke="#ff0000" stroke-width="1.5"/>
<text x="1934.5" y="505.6" textLength="121.5" lengthAdjust="spacingAndGlyphs">yarp/os/QosStyle.h</text>
<rect x="2091.75" y="489.25" width="134.50" height="25.00" fill="#fff0f0" stroke="#ff0000" stroke-width="1.5"/>
<text x="2103.0" y="505.6" textLength="112.0" lengthAdjust="spacingAndGlyphs">yarp/os/Contact.h</text>
<rect x="2555.75" y="489.25" width="108.50" height="25.00" fill="#ffffff" stroke="#666666" stroke-width="1.5"/>
<text x="2567.0" y="505.6" textLength="86.0" lengthAdjust="spacingAndGlyphs">yarp/os/Log.h</text>
<rect x="2688.75" y="489.25" width="170.00" height="25.00" fill="#fff0f0" stroke="#ff0000" stroke-width="1.5"/>
<text x="2700.0" y="505.6" textLength="147.5" lengthAdjust="spacingAndGlyphs">yarp/os/SystemClock.h</text>
<rect x="2883.25" y="489.25" width="66.00" height="25.00" fill="#e0e0e0" stroke="#999999" stroke-width="1.5"/>
<text x="2894.5" y="505.6" textLength="43.5" lengthAdjust="spacingAndGlyphs">atomic</text>
<rect x="3126.75" y="489.25" width="102.50" height="25.00" fill="#fff0f0" stroke="#ff0000" stroke-width="1.5"/>
<text x="3138.0" y="505.6" textLength="80.0" lengthAdjust="spacingAndGlyphs">yarp/os/Os.h</text>
<rect x="395.75" y="562.75" width="113.50" height="25.00" fill="#fff0f0" stroke="#ff0000" stroke-width="1.5"/>
<text x="407.0" y="579.1" textLength="91.0" lengthAdjust="spacingAndGlyphs">yarp/dev/api.h</text>
<rect x="758.25" y="562.75" width="74.00" height="25.00" fill="#e0e0e0" stroke="#999999" stroke-width="1.5"/>
<text x="769.5" y="579.1" textLength="51.5" lengthAdjust="spacingAndGlyphs">sstream</text>
<rect x="1306.75" y="562.75" width="139.50" height="25.00" fill="#fff0f0" stroke="#ff0000" stroke-width="1.5"/>
<text x="1318.0" y="579.1" textLength="117.0" lengthAdjust="spacingAndGlyphs">yarp/os/Portable.h</text>
<rect x="1887.25" y="562.75" width="58.50" height="25.00" fill="#e0e0e0" stroke="#999999" stroke-width="1.5"/>
<text x="1898.5" y="579.1" textLength="36.0" lengthAdjust="spacingAndGlyphs">string</text>
<rect x="2428.75" y="562.75" width="77.00" height="25.00" fill="#e0e0e0" stroke="#999999" stroke-width="1.5"/>
<text x="2440.0" y="579.1" textLength="54.5" lengthAdjust="spacingAndGlyphs">memory</text>
<rect x="2580.75" y="562.75" width="97.50" height="25.00" fill="#e0e0e0" stroke="#999999" stroke-width="1.5"/>
<text x="2592.0" y="579.1" textLength="75.0" lengthAdjust="spacingAndGlyphs">string_view</text>
<rect x="2702.75" y="562.75" width="67.00" height="25.00" fill="#e0e0e0" stroke="#999999" stroke-width="1.5"/>
<text x="2714.0" y="579.1" textLength="44.5" lengthAdjust="spacingAndGlyphs">cstdint</text>
<rect x="3024.75" y="562.75" width="64.00" height="25.00" fill="#e0e0e0" stroke="#999999" stroke-width="1.5"/>
<text x="3036.0" y="579.1" textLength="41.5" lengthAdjust="spacingAndGlyphs">mutex</text>
<rect x="3225.75" y="562.75" width="63.50" height="25.00" fill="#e0e0e0" stroke="#999999" stroke-width="1.5"/>
<text x="3237.0" y="579.1" textLength="41.0" lengthAdjust="spacingAndGlyphs">iosfwd</text>
<rect x="2490.25" y="635.75" width="106.00" height="25.00" fill="#fff0f0" stroke="#ff0000" stroke-width="1.5"/>
<text x="2501.5" y="652.1" textLength="83.5" lengthAdjust="spacingAndGlyphs">yarp/os/api.h</text>
</g></svg></body></html>
